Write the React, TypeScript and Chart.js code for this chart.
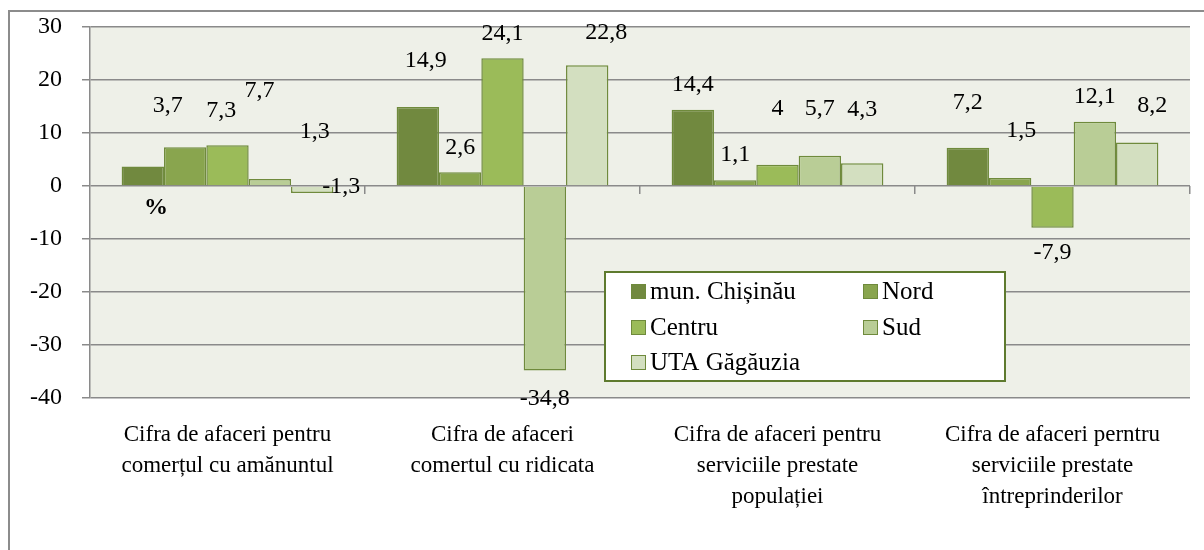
import React, { useEffect, useRef } from "react";
import { Chart, registerables } from "chart.js";

Chart.register(...registerables);

// Categories (multi-line axis labels)
const categories: string[][] = [
  ["Cifra de afaceri pentru", "comerțul cu amănuntul"],
  ["Cifra de afaceri", "comertul cu ridicata"],
  ["Cifra de afaceri pentru", "serviciile prestate", "populației"],
  ["Cifra de afaceri perntru", "serviciile prestate", "întreprinderilor"],
];

// Series names
const seriesNames: string[] = ["mun. Chișinău", "Nord", "Centru", "Sud", "UTA Găgăuzia"];

// Series values, %
const chisinau: number[] = [3.7, 14.9, 14.4, 7.2];
const nord: number[] = [7.3, 2.6, 1.1, 1.5];
const centru: number[] = [7.7, 24.1, 4, -7.9];
const sud: number[] = [1.3, -34.8, 5.7, 12.1];
const uta: number[] = [-1.3, 22.8, 4.3, 8.2];

// Y axis range
const yMin = -40;
const yMax = 30;
const yStep = 10;

const unitLabel = "%";

// Visual styling
const FONT = "'Liberation Serif', 'Times New Roman', serif";
const FONT_SIZE = 24;
const fills = ["#71893F", "#89A54E", "#9BBB59", "#B9CD96", "#D3DFC0"];
const barBorder = "#6F8A3C";
const gridColor = "#8A8A8A";
const plotBg = "#EEF0E8";

// Hand-tuned label displacement (px) from the default spot at each bar's end
const labelNudge: [number, number][][] = [
  [[25, -36], [8, -21], [0, 0], [0, -20]],
  [[36, -12], [0, 0], [0, 0], [11, -22]],
  [[32, -29], [0, 0], [0, -31], [0, 0]],
  [[45, -22], [0, 3], [0, -22], [0, 0]],
  [[29, -31], [19, -7], [0, -29], [15, -12]],
];

const fmt = (v: number) => String(v).replace(".", ",");

const framePlugin = {
  id: "frame",
  beforeDraw(chart: any) {
    const { ctx, chartArea } = chart;
    ctx.save();
    ctx.fillStyle = "#ffffff";
    ctx.fillRect(0, 0, chart.width, chart.height);
    ctx.strokeStyle = "#8C8C8C";
    ctx.lineWidth = 2;
    ctx.strokeRect(9, 11, chart.width + 40, chart.height + 40);
    ctx.fillStyle = plotBg;
    ctx.fillRect(chartArea.left, chartArea.top, chartArea.right - chartArea.left, chartArea.bottom - chartArea.top);
    ctx.restore();
  },
};

const overlayPlugin = {
  id: "overlay",
  afterDatasetsDraw(chart: any) {
    const { ctx, chartArea, scales } = chart;
    const y0 = scales.y.getPixelForValue(0);
    ctx.save();
    // category boundary ticks on the zero line
    ctx.strokeStyle = gridColor;
    ctx.lineWidth = 1.5;
    const n = categories.length;
    const w = (chartArea.right - chartArea.left) / n;
    for (let k = 1; k <= n; k++) {
      const x = Math.round(chartArea.left + w * k) - 0.25;
      ctx.beginPath();
      ctx.moveTo(x, y0);
      ctx.lineTo(x, y0 + 8);
      ctx.stroke();
    }
    // value labels
    ctx.fillStyle = "#000";
    ctx.font = `${FONT_SIZE}px ${FONT}`;
    ctx.textAlign = "center";
    ctx.textBaseline = "middle";
    chart.data.datasets.forEach((ds: any, i: number) => {
      const meta = chart.getDatasetMeta(i);
      meta.data.forEach((el: any, j: number) => {
        const v = ds.data[j];
        const [dx, dy] = labelNudge[i][j];
        const y = v >= 0 ? el.y - 25 : el.y + 25;
        ctx.fillText(fmt(v), el.x + dx, y + dy);
      });
    });
    // unit label
    ctx.font = `bold ${FONT_SIZE}px ${FONT}`;
    ctx.fillText(unitLabel, chartArea.left + w * 0.24, y0 + 22);
    ctx.restore();
  },
  afterDraw(chart: any) {
    const { ctx } = chart;
    ctx.save();
    // legend box
    const bx = 605, by = 272, bw = 400, bh = 109;
    ctx.fillStyle = "#ffffff";
    ctx.fillRect(bx, by, bw, bh);
    ctx.strokeStyle = "#5E7A2E";
    ctx.lineWidth = 2;
    ctx.strokeRect(bx, by, bw, bh);
    ctx.font = `25px ${FONT}`;
    ctx.textAlign = "left";
    ctx.textBaseline = "middle";
    const cols = [631, 863];
    const rows = [291, 327, 362];
    seriesNames.forEach((name, i) => {
      const cx = cols[i % 2];
      const cy = rows[Math.floor(i / 2)];
      ctx.fillStyle = fills[i];
      ctx.fillRect(cx, cy - 7, 15, 15);
      ctx.strokeStyle = barBorder;
      ctx.lineWidth = 1;
      ctx.strokeRect(cx + 0.5, cy - 6.5, 14, 14);
      ctx.fillStyle = "#000";
      ctx.fillText(name, cx + 19, cy + 1);
    });
    ctx.restore();
  },
};

export default function App() {
  const ref = useRef<HTMLCanvasElement | null>(null);

  useEffect(() => {
    if (!ref.current) return;
    const series = [chisinau, nord, centru, sud, uta];
    const chart = new Chart(ref.current, {
      type: "bar",
      data: {
        labels: categories as any,
        datasets: series.map((d, i) => ({
          label: seriesNames[i],
          data: d,
          backgroundColor: fills[i],
          borderColor: barBorder,
          borderWidth: 1.5,
          categoryPercentage: 0.77,
          barPercentage: 1,
        })),
      },
      options: {
        animation: false,
        responsive: false,
        devicePixelRatio: 1,
        layout: { padding: { top: 27, right: 14, left: 0, bottom: 0 } },
        plugins: {
          legend: { display: false },
          tooltip: { enabled: false },
        },
        scales: {
          x: {
            grid: { display: false, drawTicks: false },
            border: { display: false },
            ticks: {
              color: "#000",
              font: { family: FONT, size: 23, lineHeight: 1.35 },
              padding: 21,
              maxRotation: 0,
              autoSkip: false,
            },
            afterFit: (s: any) => {
              s.height = 152;
              s.paddingLeft = 0;
              s.paddingRight = 0;
            },
          },
          y: {
            min: yMin,
            max: yMax,
            ticks: {
              stepSize: yStep,
              color: "#000",
              font: { family: FONT, size: FONT_SIZE },
              padding: 20,
            },
            grid: { color: gridColor, lineWidth: 1.5, tickLength: 8, drawTicks: true },
            border: { display: true, color: gridColor, width: 1.5 },
            afterFit: (s: any) => {
              s.width = 90;
              s.paddingTop = 0;
              s.paddingBottom = 0;
            },
          },
        },
      },
      plugins: [framePlugin, overlayPlugin],
    });
    return () => chart.destroy();
  }, []);

  return (
    <div style={{ position: "absolute", left: 0, top: 0, width: 1204, height: 550 }}>
      <canvas ref={ref} width={1204} height={550} style={{ display: "block" }} />
    </div>
  );
}
